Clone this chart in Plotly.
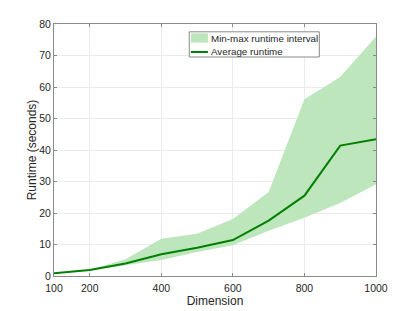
import plotly.graph_objects as go

dimension = [100, 200, 300, 400, 500, 600, 700, 800, 900, 1000]
avg_runtime = [0.85, 1.9, 4.0, 6.9, 9.0, 11.4, 17.6, 25.5, 41.4, 43.4]
max_runtime = [0.95, 2.0, 5.3, 11.8, 13.4, 18.1, 26.7, 56.1, 63.2, 76.0]
min_runtime = [0.7, 1.8, 3.4, 5.1, 7.6, 9.8, 14.4, 18.5, 23.2, 29.1]
x_ticks = [100, 200, 400, 600, 800, 1000]
y_ticks = [0, 10, 20, 30, 40, 50, 60, 70, 80]
legend_labels = ["Min-max runtime interval", "Average runtime"]

FILL = "rgb(189,230,189)"
LINE = "rgb(0,128,0)"
TXT = "#262626"
AXC = "#8a8a8a"

fig = go.Figure()
fig.add_trace(go.Scatter(
    x=dimension + dimension[::-1],
    y=max_runtime + min_runtime[::-1],
    fill="toself", fillcolor=FILL, mode="none",
    line=dict(width=0), name=legend_labels[0], hoverinfo="skip"))
fig.add_trace(go.Scatter(
    x=dimension, y=avg_runtime, mode="lines",
    line=dict(color=LINE, width=2), name=legend_labels[1]))

axis_common = dict(
    showline=True, linecolor=AXC, linewidth=1, mirror="ticks",
    ticks="inside", ticklen=3, tickcolor=AXC,
    showgrid=True, gridcolor="#ebebeb", gridwidth=1, zeroline=False,
    automargin=False,
    tickfont=dict(family="Liberation Sans, Arial", size=10.5, color=TXT),
)

# manual legend (MATLAB style, compact)
lx0, lx1, ly0, ly1 = 0.420, 0.824, 0.869, 0.969
fig.add_shape(type="rect", xref="paper", yref="paper", x0=lx0, x1=lx1, y0=ly0, y1=ly1,
              line=dict(color=AXC, width=1), fillcolor="white", layer="above")
fig.add_shape(type="rect", xref="paper", yref="paper", x0=0.425, x1=0.478, y0=0.926, y1=0.963,
              line=dict(width=0), fillcolor=FILL, layer="above")
fig.add_shape(type="line", xref="paper", yref="paper", x0=0.425, x1=0.478, y0=0.889, y1=0.889,
              line=dict(color=LINE, width=2), layer="above")
for label, yy in zip(legend_labels, [0.941, 0.890]):
    fig.add_annotation(x=0.481, y=yy, xref="paper", yref="paper", text=label,
                       showarrow=False, xanchor="left", yanchor="middle",
                       font=dict(family="Liberation Sans, Arial", size=9.8, color=TXT))

fig.update_layout(
    width=407, height=303,
    margin=dict(l=46, r=39, t=16, b=35, pad=0, autoexpand=False),
    paper_bgcolor="white", plot_bgcolor="white",
    font=dict(family="Liberation Sans, Arial", size=11, color=TXT),
    xaxis=dict(range=[100, 1000], tickvals=x_ticks, ticklabelstandoff=2,
               title=dict(text="Dimension", standoff=0, font=dict(size=12)),
               **axis_common),
    yaxis=dict(range=[0, 80], tickvals=y_ticks,
               title=dict(text="Runtime (seconds)", standoff=0, font=dict(size=12)),
               **axis_common),
    showlegend=False,
)

fig.write_html("out.html")
